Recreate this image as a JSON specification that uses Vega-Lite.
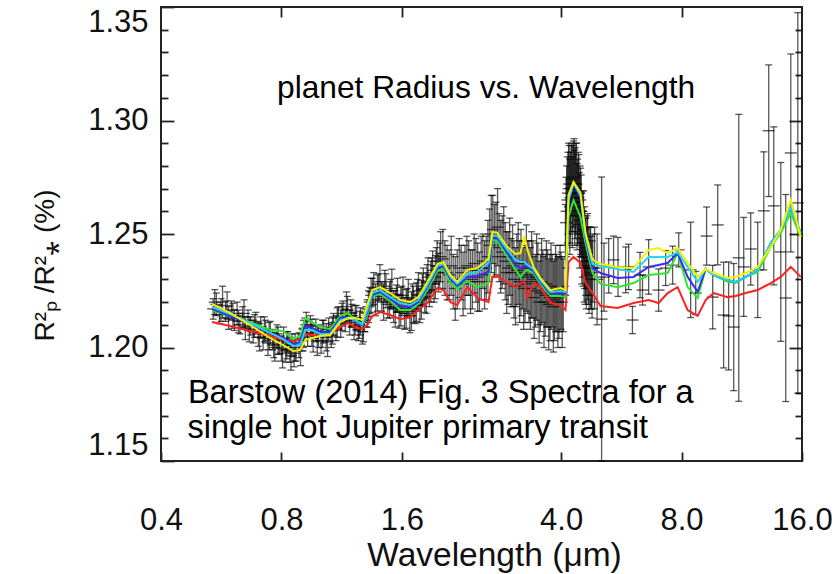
{
  "$schema": "https://vega.github.io/schema/vega-lite/v6.json",
  "width": 641,
  "height": 454,
  "autosize": {"type": "none"},
  "padding": {"left": 161, "top": 7, "right": 38, "bottom": 113},
  "background": "white",
  "config": {
    "view": {"stroke": "#222", "strokeWidth": 2},
    "font": "Liberation Sans",
    "axis": {"domain": false, "grid": false, "labelFont": "Liberation Sans", "titleFont": "Liberation Sans", "labelColor": "#111", "titleColor": "#111", "tickColor": "#222", "tickWidth": 1.8}
  },
  "datasets": {
    "pts": [
      {"w":0.54,"v":1.2170,"e":0.0045},{"w":0.55,"v":1.2190,"e":0.0050},{"w":0.56,"v":1.2145,"e":0.0040},{"w":0.57,"v":1.2200,"e":0.0070},
      {"w":0.58,"v":1.2160,"e":0.0045},{"w":0.59,"v":1.2130,"e":0.0050},{"w":0.60,"v":1.2165,"e":0.0040},{"w":0.61,"v":1.2120,"e":0.0045},
      {"w":0.62,"v":1.2150,"e":0.0050},{"w":0.63,"v":1.2100,"e":0.0040},{"w":0.64,"v":1.2135,"e":0.0045},{"w":0.65,"v":1.2085,"e":0.0050},
      {"w":0.66,"v":1.2120,"e":0.0045},{"w":0.67,"v":1.2095,"e":0.0040},{"w":0.68,"v":1.2070,"e":0.0050},{"w":0.69,"v":1.2110,"e":0.0045},
      {"w":0.70,"v":1.2060,"e":0.0055},{"w":0.71,"v":1.2090,"e":0.0045},{"w":0.72,"v":1.2040,"e":0.0050},{"w":0.73,"v":1.2075,"e":0.0045},
      {"w":0.74,"v":1.2020,"e":0.0055},{"w":0.75,"v":1.2065,"e":0.0050},{"w":0.76,"v":1.2035,"e":0.0045},{"w":0.77,"v":1.2000,"e":0.0060},
      {"w":0.78,"v":1.2050,"e":0.0050},{"w":0.79,"v":1.2015,"e":0.0045},{"w":0.80,"v":1.1995,"e":0.0055},{"w":0.81,"v":1.2040,"e":0.0050},
      {"w":0.82,"v":1.1985,"e":0.0050},{"w":0.83,"v":1.2025,"e":0.0045},{"w":0.84,"v":1.1990,"e":0.0055},{"w":0.85,"v":1.2010,"e":0.0050},
      {"w":0.86,"v":1.1975,"e":0.0060},
      {"w":0.870,"v":1.1990,"e":0.0050},{"w":0.885,"v":1.2010,"e":0.0055},{"w":0.900,"v":1.2035,"e":0.0050},{"w":0.915,"v":1.2080,"e":0.0050},
      {"w":0.930,"v":1.2060,"e":0.0055},{"w":0.945,"v":1.2095,"e":0.0045},{"w":0.960,"v":1.2040,"e":0.0060},{"w":0.975,"v":1.2075,"e":0.0050},
      {"w":0.990,"v":1.2050,"e":0.0050},{"w":1.005,"v":1.2030,"e":0.0055},{"w":1.020,"v":1.2070,"e":0.0050},{"w":1.035,"v":1.2045,"e":0.0060},
      {"w":1.050,"v":1.2080,"e":0.0050},{"w":1.065,"v":1.2055,"e":0.0055},{"w":1.080,"v":1.2100,"e":0.0050},{"w":1.095,"v":1.2085,"e":0.0055},
      {"w":1.110,"v":1.2130,"e":0.0050},{"w":1.125,"v":1.2105,"e":0.0060},{"w":1.140,"v":1.2150,"e":0.0055},{"w":1.155,"v":1.2120,"e":0.0050},
      {"w":1.170,"v":1.2165,"e":0.0060},{"w":1.185,"v":1.2110,"e":0.0055},{"w":1.200,"v":1.2140,"e":0.0050},{"w":1.215,"v":1.2095,"e":0.0060},
      {"w":1.230,"v":1.2130,"e":0.0055},{"w":1.245,"v":1.2080,"e":0.0050},{"w":1.260,"v":1.2115,"e":0.0060},{"w":1.275,"v":1.2070,"e":0.0055},
      {"w":1.290,"v":1.2120,"e":0.0050},
      {"w":1.310,"v":1.2150,"e":0.0060},{"w":1.330,"v":1.2200,"e":0.0065},{"w":1.350,"v":1.2245,"e":0.0060},{"w":1.375,"v":1.2210,"e":0.0070},
      {"w":1.400,"v":1.2265,"e":0.0060},{"w":1.425,"v":1.2225,"e":0.0065},{"w":1.450,"v":1.2270,"e":0.0070},{"w":1.475,"v":1.2190,"e":0.0060},
      {"w":1.500,"v":1.2235,"e":0.0065},{"w":1.525,"v":1.2180,"e":0.0070},{"w":1.550,"v":1.2215,"e":0.0060},{"w":1.575,"v":1.2160,"e":0.0075},
      {"w":1.600,"v":1.2205,"e":0.0065},{"w":1.625,"v":1.2150,"e":0.0070},{"w":1.650,"v":1.2195,"e":0.0065},{"w":1.675,"v":1.2140,"e":0.0075},
      {"w":1.700,"v":1.2210,"e":0.0070},{"w":1.725,"v":1.2170,"e":0.0065},{"w":1.750,"v":1.2230,"e":0.0070},{"w":1.775,"v":1.2185,"e":0.0075},
      {"w":1.800,"v":1.2255,"e":0.0070},{"w":1.825,"v":1.2220,"e":0.0065},{"w":1.850,"v":1.2290,"e":0.0075},{"w":1.875,"v":1.2250,"e":0.0070},
      {"w":1.900,"v":1.2320,"e":0.0075},{"w":1.925,"v":1.2280,"e":0.0080},{"w":1.950,"v":1.2360,"e":0.0080},{"w":1.975,"v":1.2330,"e":0.0085},
      {"w":2.00,"v":1.2400,"e":0.0110},{"w":2.05,"v":1.2350,"e":0.0120},{"w":2.10,"v":1.2320,"e":0.0110},{"w":2.15,"v":1.2290,"e":0.0120},
      {"w":2.20,"v":1.2300,"e":0.0130},{"w":2.25,"v":1.2330,"e":0.0120},{"w":2.30,"v":1.2310,"e":0.0140},{"w":2.35,"v":1.2350,"e":0.0120},
      {"w":2.40,"v":1.2300,"e":0.0130},{"w":2.45,"v":1.2340,"e":0.0140},{"w":2.50,"v":1.2290,"e":0.0130},{"w":2.55,"v":1.2380,"e":0.0120},
      {"w":2.60,"v":1.2350,"e":0.0140},{"w":2.65,"v":1.2450,"e":0.0160},{"w":2.70,"v":1.2520,"e":0.0150},{"w":2.75,"v":1.2480,"e":0.0160},
      {"w":2.80,"v":1.2440,"e":0.0150},{"w":2.85,"v":1.2420,"e":0.0160},{"w":2.90,"v":1.2380,"e":0.0170},{"w":2.95,"v":1.2350,"e":0.0160},
      {"w":3.00,"v":1.2330,"e":0.0150},{"w":3.05,"v":1.2300,"e":0.0170},{"w":3.10,"v":1.2340,"e":0.0160},{"w":3.15,"v":1.2290,"e":0.0180},
      {"w":3.20,"v":1.2320,"e":0.0150},{"w":3.25,"v":1.2280,"e":0.0170},{"w":3.30,"v":1.2310,"e":0.0160},{"w":3.35,"v":1.2260,"e":0.0180},
      {"w":3.40,"v":1.2300,"e":0.0170},{"w":3.45,"v":1.2250,"e":0.0160},{"w":3.50,"v":1.2280,"e":0.0180},{"w":3.55,"v":1.2240,"e":0.0170},
      {"w":3.60,"v":1.2270,"e":0.0160},{"w":3.65,"v":1.2230,"e":0.0180},{"w":3.70,"v":1.2260,"e":0.0170},{"w":3.75,"v":1.2220,"e":0.0190},
      {"w":3.80,"v":1.2250,"e":0.0160},{"w":3.85,"v":1.2210,"e":0.0180},{"w":3.90,"v":1.2240,"e":0.0170},{"w":3.95,"v":1.2220,"e":0.0180},
      {"w":4.00,"v":1.2250,"e":0.0170},{"w":4.05,"v":1.2230,"e":0.0160},
      {"w":4.10,"v":1.2450,"e":0.0180},{"w":4.13,"v":1.2600,"e":0.0200},{"w":4.16,"v":1.2680,"e":0.0180},{"w":4.19,"v":1.2720,"e":0.0170},
      {"w":4.22,"v":1.2660,"e":0.0200},{"w":4.25,"v":1.2740,"e":0.0160},{"w":4.28,"v":1.2700,"e":0.0190},{"w":4.31,"v":1.2750,"e":0.0170},
      {"w":4.34,"v":1.2680,"e":0.0200},{"w":4.37,"v":1.2720,"e":0.0180},{"w":4.40,"v":1.2640,"e":0.0190},{"w":4.43,"v":1.2680,"e":0.0170},
      {"w":4.46,"v":1.2600,"e":0.0200},{"w":4.49,"v":1.2580,"e":0.0180},{"w":4.52,"v":1.2500,"e":0.0190},{"w":4.55,"v":1.2520,"e":0.0170},
      {"w":4.58,"v":1.2440,"e":0.0180},{"w":4.61,"v":1.2400,"e":0.0170},{"w":4.64,"v":1.2420,"e":0.0160},{"w":4.68,"v":1.2360,"e":0.0170},
      {"w":4.72,"v":1.2380,"e":0.0150},{"w":4.76,"v":1.2330,"e":0.0160},{"w":4.80,"v":1.2350,"e":0.0150},
      {"w":0.545,"v":1.2200,"e":0.0055},{"w":0.565,"v":1.2165,"e":0.0050},{"w":0.585,"v":1.2185,"e":0.0060},{"w":0.605,"v":1.2140,"e":0.0055},
      {"w":0.625,"v":1.2115,"e":0.0050},{"w":0.645,"v":1.2150,"e":0.0060},{"w":0.665,"v":1.2080,"e":0.0055},{"w":0.685,"v":1.2095,"e":0.0050},
      {"w":0.705,"v":1.2045,"e":0.0060},{"w":0.725,"v":1.2080,"e":0.0055},{"w":0.745,"v":1.2050,"e":0.0060},{"w":0.765,"v":1.2010,"e":0.0055},
      {"w":0.785,"v":1.2030,"e":0.0060},{"w":0.805,"v":1.1975,"e":0.0065},{"w":0.825,"v":1.2010,"e":0.0060},{"w":0.845,"v":1.1965,"e":0.0065},
      {"w":0.865,"v":1.2000,"e":0.0060},{"w":0.893,"v":1.1985,"e":0.0065},{"w":0.908,"v":1.2060,"e":0.0060},{"w":0.923,"v":1.2100,"e":0.0055},
      {"w":0.953,"v":1.2065,"e":0.0060},{"w":0.983,"v":1.2030,"e":0.0065},{"w":1.013,"v":1.2060,"e":0.0060},{"w":1.043,"v":1.2025,"e":0.0065},
      {"w":1.073,"v":1.2075,"e":0.0060},{"w":1.103,"v":1.2110,"e":0.0065},{"w":1.133,"v":1.2135,"e":0.0060},{"w":1.163,"v":1.2180,"e":0.0065},
      {"w":1.193,"v":1.2150,"e":0.0060},{"w":1.223,"v":1.2120,"e":0.0065},{"w":1.253,"v":1.2100,"e":0.0060},{"w":1.283,"v":1.2090,"e":0.0065},
      {"w":1.32,"v":1.2180,"e":0.0070},{"w":1.34,"v":1.2230,"e":0.0075},{"w":1.36,"v":1.2260,"e":0.0070},{"w":1.39,"v":1.2240,"e":0.0080},
      {"w":1.41,"v":1.2290,"e":0.0075},{"w":1.44,"v":1.2200,"e":0.0080},{"w":1.46,"v":1.2250,"e":0.0075},{"w":1.49,"v":1.2210,"e":0.0080},
      {"w":1.51,"v":1.2260,"e":0.0085},{"w":1.54,"v":1.2170,"e":0.0080},{"w":1.56,"v":1.2230,"e":0.0075},{"w":1.59,"v":1.2180,"e":0.0085},
      {"w":1.61,"v":1.2230,"e":0.0080},{"w":1.64,"v":1.2170,"e":0.0085},{"w":1.66,"v":1.2220,"e":0.0080},{"w":1.69,"v":1.2160,"e":0.0085},
      {"w":1.71,"v":1.2190,"e":0.0080},{"w":1.74,"v":1.2200,"e":0.0085},{"w":1.76,"v":1.2250,"e":0.0080},{"w":1.79,"v":1.2210,"e":0.0085},
      {"w":1.81,"v":1.2270,"e":0.0080},{"w":1.84,"v":1.2240,"e":0.0090},{"w":1.86,"v":1.2310,"e":0.0085},{"w":1.89,"v":1.2290,"e":0.0090},
      {"w":1.91,"v":1.2340,"e":0.0085},{"w":1.94,"v":1.2310,"e":0.0095},{"w":1.96,"v":1.2380,"e":0.0090},{"w":1.99,"v":1.2360,"e":0.0100},
      {"w":2.025,"v":1.2390,"e":0.0130},{"w":2.075,"v":1.2330,"e":0.0120},{"w":2.125,"v":1.2360,"e":0.0130},{"w":2.175,"v":1.2260,"e":0.0140},
      {"w":2.225,"v":1.2350,"e":0.0130},{"w":2.275,"v":1.2280,"e":0.0140},{"w":2.325,"v":1.2360,"e":0.0130},{"w":2.375,"v":1.2290,"e":0.0140},
      {"w":2.425,"v":1.2370,"e":0.0130},{"w":2.475,"v":1.2310,"e":0.0150},{"w":2.525,"v":1.2350,"e":0.0140},{"w":2.575,"v":1.2320,"e":0.0150},
      {"w":2.625,"v":1.2400,"e":0.0160},{"w":2.675,"v":1.2500,"e":0.0170},{"w":2.725,"v":1.2470,"e":0.0160},{"w":2.775,"v":1.2530,"e":0.0170},
      {"w":2.825,"v":1.2400,"e":0.0160},{"w":2.875,"v":1.2450,"e":0.0170},{"w":2.925,"v":1.2330,"e":0.0180},{"w":2.975,"v":1.2400,"e":0.0170},
      {"w":3.025,"v":1.2360,"e":0.0180},{"w":3.075,"v":1.2270,"e":0.0170},{"w":3.125,"v":1.2370,"e":0.0180},{"w":3.175,"v":1.2330,"e":0.0190},
      {"w":3.225,"v":1.2260,"e":0.0180},{"w":3.275,"v":1.2350,"e":0.0190},{"w":3.325,"v":1.2290,"e":0.0180},{"w":3.375,"v":1.2320,"e":0.0190},
      {"w":3.425,"v":1.2220,"e":0.0180},{"w":3.475,"v":1.2310,"e":0.0190},{"w":3.525,"v":1.2200,"e":0.0180},{"w":3.575,"v":1.2290,"e":0.0190},
      {"w":3.625,"v":1.2200,"e":0.0200},{"w":3.675,"v":1.2280,"e":0.0190},{"w":3.725,"v":1.2190,"e":0.0200},{"w":3.775,"v":1.2270,"e":0.0190},
      {"w":3.825,"v":1.2180,"e":0.0200},{"w":3.875,"v":1.2260,"e":0.0190},{"w":3.925,"v":1.2200,"e":0.0200},{"w":3.975,"v":1.2260,"e":0.0190},
      {"w":4.025,"v":1.2200,"e":0.0200},
      {"w":4.115,"v":1.2550,"e":0.0200},{"w":4.145,"v":1.2650,"e":0.0190},{"w":4.175,"v":1.2700,"e":0.0200},{"w":4.205,"v":1.2620,"e":0.0210},
      {"w":4.235,"v":1.2700,"e":0.0190},{"w":4.265,"v":1.2640,"e":0.0200},{"w":4.295,"v":1.2720,"e":0.0190},{"w":4.325,"v":1.2660,"e":0.0210},
      {"w":4.355,"v":1.2700,"e":0.0200},{"w":4.385,"v":1.2620,"e":0.0190},{"w":4.415,"v":1.2660,"e":0.0200},{"w":4.445,"v":1.2560,"e":0.0210},
      {"w":4.475,"v":1.2600,"e":0.0190},{"w":4.505,"v":1.2480,"e":0.0200},{"w":4.535,"v":1.2460,"e":0.0190},{"w":4.565,"v":1.2400,"e":0.0200},
      {"w":4.595,"v":1.2380,"e":0.0190},{"w":4.625,"v":1.2350,"e":0.0180},{"w":4.66,"v":1.2400,"e":0.0190},{"w":4.70,"v":1.2320,"e":0.0170},
      {"w":4.74,"v":1.2350,"e":0.0180},{"w":4.78,"v":1.2300,"e":0.0170},
      {"w":4.85,"v":1.2350,"e":0.0180},{"w":4.92,"v":1.2300,"e":0.0200},{"w":5.05,"v":1.2125,"e":0.0626},{"w":5.12,"v":1.2310,"e":0.0150},
      {"w":5.26,"v":1.2360,"e":0.0120},{"w":5.41,"v":1.2386,"e":0.0105},{"w":5.55,"v":1.2355,"e":0.0130},{"w":5.80,"v":1.2342,"e":0.0101},
      {"w":5.90,"v":1.2355,"e":0.0100},{"w":6.03,"v":1.2121,"e":0.0060},{"w":6.30,"v":1.2319,"e":0.0100},{"w":6.39,"v":1.2253,"e":0.0066},
      {"w":6.62,"v":1.2355,"e":0.0120},{"w":7.01,"v":1.2253,"e":0.0093},{"w":7.30,"v":1.2350,"e":0.0077},{"w":7.60,"v":1.2363,"e":0.0084},
      {"w":7.87,"v":1.2430,"e":0.0075},{"w":8.43,"v":1.2342,"e":0.0210},{"w":8.68,"v":1.2240,"e":0.0095},{"w":9.24,"v":1.2491,"e":0.0128},
      {"w":9.57,"v":1.2222,"e":0.0140},{"w":9.85,"v":1.2540,"e":0.0176},{"w":10.19,"v":1.2143,"e":0.0233},{"w":10.49,"v":1.2139,"e":0.0238},
      {"w":10.80,"v":1.2090,"e":0.0280},{"w":11.12,"v":1.2395,"e":0.0632},{"w":11.44,"v":1.2355,"e":0.0218},{"w":11.91,"v":1.2434,"e":0.0159},
      {"w":12.40,"v":1.2342,"e":0.0210},{"w":12.84,"v":1.2602,"e":0.0260},{"w":13.21,"v":1.2955,"e":0.0290},{"w":13.60,"v":1.2624,"e":0.0348},
      {"w":14.16,"v":1.2421,"e":0.0394},{"w":14.57,"v":1.2218,"e":0.0456},{"w":15.00,"v":1.2857,"e":0.0436},{"w":15.62,"v":1.2637,"e":0.0838}
    ],
    "lines": [
      {"w":0.5366,"yellow":1.2192,"cyan":1.2178,"blue":1.2170,"green":1.2165,"red":1.2112},
      {"w":0.5953,"yellow":1.2152,"cyan":1.2147,"blue":1.2139,"green":1.2139,"red":1.2095},
      {"w":0.6680,"yellow":1.2099,"cyan":1.2108,"blue":1.2103,"green":1.2112,"red":1.2073},
      {"w":0.7496,"yellow":1.2042,"cyan":1.2064,"blue":1.2064,"green":1.2077,"red":1.2051},
      {"w":0.8078,"yellow":1.2011,"cyan":1.2037,"blue":1.2042,"green":1.2073,"red":1.2033},
      {"w":0.8558,"yellow":1.1985,"cyan":1.2007,"blue":1.2015,"green":1.2037,"red":1.2029},
      {"w":0.8909,"yellow":1.1989,"cyan":1.2011,"blue":1.2024,"green":1.2051,"red":1.2037},
      {"w":0.9170,"yellow":1.2033,"cyan":1.2077,"blue":1.2095,"green":1.2130,"red":1.2059},
      {"w":0.9548,"yellow":1.2042,"cyan":1.2077,"blue":1.2086,"green":1.2112,"red":1.2055},
      {"w":0.9998,"yellow":1.2051,"cyan":1.2059,"blue":1.2068,"green":1.2090,"red":1.2051},
      {"w":1.0591,"yellow":1.2055,"cyan":1.2059,"blue":1.2068,"green":1.2081,"red":1.2064},
      {"w":1.1220,"yellow":1.2112,"cyan":1.2121,"blue":1.2130,"green":1.2139,"red":1.2090},
      {"w":1.1748,"yellow":1.2130,"cyan":1.2130,"blue":1.2134,"green":1.2152,"red":1.2108},
      {"w":1.2232,"yellow":1.2130,"cyan":1.2121,"blue":1.2117,"green":1.2117,"red":1.2090},
      {"w":1.2736,"yellow":1.2121,"cyan":1.2103,"blue":1.2099,"green":1.2095,"red":1.2081},
      {"w":1.3108,"yellow":1.2187,"cyan":1.2165,"blue":1.2156,"green":1.2143,"red":1.2099},
      {"w":1.3491,"yellow":1.2253,"cyan":1.2240,"blue":1.2231,"green":1.2227,"red":1.2139},
      {"w":1.4127,"yellow":1.2266,"cyan":1.2253,"blue":1.2245,"green":1.2236,"red":1.2156},
      {"w":1.4966,"yellow":1.2240,"cyan":1.2222,"blue":1.2214,"green":1.2205,"red":1.2143},
      {"w":1.5854,"yellow":1.2209,"cyan":1.2196,"blue":1.2183,"green":1.2165,"red":1.2125},
      {"w":1.6794,"yellow":1.2200,"cyan":1.2187,"blue":1.2178,"green":1.2165,"red":1.2134},
      {"w":1.7586,"yellow":1.2222,"cyan":1.2209,"blue":1.2200,"green":1.2192,"red":1.2165},
      {"w":1.8522,"yellow":1.2289,"cyan":1.2275,"blue":1.2266,"green":1.2253,"red":1.2196},
      {"w":1.9621,"yellow":1.2368,"cyan":1.2359,"blue":1.2350,"green":1.2337,"red":1.2262},
      {"w":2.0310,"yellow":1.2377,"cyan":1.2368,"blue":1.2359,"green":1.2350,"red":1.2253},
      {"w":2.1147,"yellow":1.2319,"cyan":1.2311,"blue":1.2302,"green":1.2284,"red":1.2200},
      {"w":2.2017,"yellow":1.2289,"cyan":1.2280,"blue":1.2271,"green":1.2258,"red":1.2187},
      {"w":2.3323,"yellow":1.2342,"cyan":1.2324,"blue":1.2311,"green":1.2293,"red":1.2266},
      {"w":2.4708,"yellow":1.2350,"cyan":1.2333,"blue":1.2315,"green":1.2266,"red":1.2218},
      {"w":2.6323,"yellow":1.2390,"cyan":1.2372,"blue":1.2333,"green":1.2284,"red":1.2200},
      {"w":2.6938,"yellow":1.2509,"cyan":1.2496,"blue":1.2482,"green":1.2474,"red":1.2311},
      {"w":2.7726,"yellow":1.2504,"cyan":1.2491,"blue":1.2482,"green":1.2469,"red":1.2315},
      {"w":2.9370,"yellow":1.2443,"cyan":1.2430,"blue":1.2416,"green":1.2399,"red":1.2284},
      {"w":3.0755,"yellow":1.2412,"cyan":1.2386,"blue":1.2363,"green":1.2342,"red":1.2266},
      {"w":3.1654,"yellow":1.2416,"cyan":1.2377,"blue":1.2350,"green":1.2311,"red":1.2284},
      {"w":3.2394,"yellow":1.2491,"cyan":1.2377,"blue":1.2359,"green":1.2333,"red":1.2289},
      {"w":3.2956,"yellow":1.2430,"cyan":1.2363,"blue":1.2355,"green":1.2342,"red":1.2218},
      {"w":3.4116,"yellow":1.2355,"cyan":1.2346,"blue":1.2337,"green":1.2328,"red":1.2284},
      {"w":3.5522,"yellow":1.2306,"cyan":1.2297,"blue":1.2289,"green":1.2280,"red":1.2266},
      {"w":3.7628,"yellow":1.2253,"cyan":1.2245,"blue":1.2236,"green":1.2227,"red":1.2196},
      {"w":3.9859,"yellow":1.2262,"cyan":1.2249,"blue":1.2240,"green":1.2227,"red":1.2187},
      {"w":4.1025,"yellow":1.2253,"cyan":1.2245,"blue":1.2236,"green":1.2222,"red":1.2165},
      {"w":4.1740,"yellow":1.2672,"cyan":1.2650,"blue":1.2637,"green":1.2575,"red":1.2377},
      {"w":4.2957,"yellow":1.2729,"cyan":1.2724,"blue":1.2720,"green":1.2650,"red":1.2399},
      {"w":4.4723,"yellow":1.2681,"cyan":1.2672,"blue":1.2659,"green":1.2575,"red":1.2372},
      {"w":4.6031,"yellow":1.2504,"cyan":1.2491,"blue":1.2482,"green":1.2460,"red":1.2284},
      {"w":4.7925,"yellow":1.2386,"cyan":1.2368,"blue":1.2350,"green":1.2328,"red":1.2240},
      {"w":5.0183,"yellow":1.2368,"cyan":1.2359,"blue":1.2328,"green":1.2280,"red":1.2183},
      {"w":5.5352,"yellow":1.2355,"cyan":1.2346,"blue":1.2306,"green":1.2266,"red":1.2174},
      {"w":6.0705,"yellow":1.2350,"cyan":1.2333,"blue":1.2311,"green":1.2284,"red":1.2196},
      {"w":6.6180,"yellow":1.2430,"cyan":1.2399,"blue":1.2355,"green":1.2319,"red":1.2209},
      {"w":7.0097,"yellow":1.2438,"cyan":1.2399,"blue":1.2363,"green":1.2324,"red":1.2196},
      {"w":7.3836,"yellow":1.2416,"cyan":1.2399,"blue":1.2372,"green":1.2328,"red":1.2240},
      {"w":7.8213,"yellow":1.2438,"cyan":1.2421,"blue":1.2416,"green":1.2416,"red":1.2266},
      {"w":8.2852,"yellow":1.2372,"cyan":1.2355,"blue":1.2311,"green":1.2266,"red":1.2165},
      {"w":8.7765,"yellow":1.2311,"cyan":1.2289,"blue":1.2245,"green":1.2218,"red":1.2139},
      {"w":9.1900,"yellow":1.2346,"cyan":1.2346,"blue":1.2346,"green":1.2346,"red":1.2209},
      {"w":9.6237,"yellow":1.2328,"cyan":1.2319,"blue":1.2319,"green":1.2319,"red":1.2240},
      {"w":10.432,"yellow":1.2306,"cyan":1.2297,"blue":1.2297,"green":1.2289,"red":1.2222},
      {"w":10.924,"yellow":1.2311,"cyan":1.2289,"blue":1.2289,"green":1.2284,"red":1.2227},
      {"w":11.572,"yellow":1.2328,"cyan":1.2311,"blue":1.2311,"green":1.2311,"red":1.2240},
      {"w":12.402,"yellow":1.2355,"cyan":1.2342,"blue":1.2342,"green":1.2333,"red":1.2253},
      {"w":13.365,"yellow":1.2443,"cyan":1.2460,"blue":1.2460,"green":1.2443,"red":1.2284},
      {"w":14.159,"yellow":1.2518,"cyan":1.2518,"blue":1.2518,"green":1.2504,"red":1.2311},
      {"w":14.998,"yellow":1.2650,"cyan":1.2619,"blue":1.2619,"green":1.2593,"red":1.2355},
      {"w":15.888,"yellow":1.2487,"cyan":1.2504,"blue":1.2504,"green":1.2487,"red":1.2311}
    ],
    "notes1": [
      {"w":0.780,"v":1.3099,"t":"planet Radius vs. Wavelength"}
    ],
    "notes2": [
      {"w":0.467,"v":1.1755,"t":"Barstow (2014) Fig. 3 Spectra for a"},
      {"w":0.466,"v":1.1601,"t":"single hot Jupiter primary transit"}
    ]
  },
  "resolve": {"axis": {"x": "independent", "y": "independent"}},
  "layer": [
    {
      "data": {"name": "pts"},
      "mark": {"type": "errorbar", "ticks": true, "size": 7, "thickness": 1.3, "color": "#000", "opacity": 0.65},
      "encoding": {
        "x": {"field": "w", "type": "quantitative", "scale": {"type": "log", "domain": [0.4, 16], "nice": false},
          "axis": {"orient": "bottom", "values": [0.4, 0.8, 1.6, 4, 8, 16], "format": ".1f", "title": "Wavelength (μm)",
            "labelFontSize": 31, "titleFontSize": 33.5, "titleFontWeight": "normal", "tickSize": 9, "offset": -9, "labelPadding": 44,
            "labelFlush": false, "labelOverlap": false, "titleX": 333, "titleY": 113, "titleBaseline": "alphabetic"}},
        "y": {"field": "v", "type": "quantitative", "scale": {"domain": [1.15, 1.35], "nice": false, "zero": false},
          "axis": {"orient": "left", "values": [1.15, 1.2, 1.25, 1.3, 1.35], "format": ".2f", "title": "R²ₚ /R²⁎ (%)",
            "labelFontSize": 31, "titleFontSize": 28, "titleFontWeight": "normal", "tickSize": 13, "offset": -13, "labelPadding": 13,
            "labelFlush": true, "labelOverlap": false, "titleAngle": -90, "titleX": -129, "titleY": 258, "titleAlign": "center", "titleBaseline": "middle"}},
        "yError": {"field": "e"}
      }
    },
    {
      "data": {"name": "pts"},
      "mark": {"type": "tick", "orient": "horizontal", "size": 12, "thickness": 1.4, "color": "#000", "opacity": 0.65},
      "encoding": {
        "x": {"field": "w", "type": "quantitative", "scale": {"type": "log", "domain": [0.4, 16], "nice": false},
          "axis": {"orient": "top", "values": [0.8, 1.6, 4, 8], "labels": false, "title": null, "tickSize": 10, "offset": -10}},
        "y": {"field": "v", "type": "quantitative", "scale": {"domain": [1.15, 1.35], "nice": false, "zero": false},
          "axis": {"orient": "left", "values": [1.16, 1.17, 1.18, 1.19, 1.21, 1.22, 1.23, 1.24, 1.26, 1.27, 1.28, 1.29, 1.31, 1.32, 1.33, 1.34], "labels": false, "title": null, "tickSize": 7, "offset": -7}}
      }
    },
    {
      "data": {"name": "lines"},
      "mark": {"type": "line", "color": "#ff2020", "strokeWidth": 2},
      "encoding": {
        "x": {"field": "w", "type": "quantitative", "scale": {"type": "log", "domain": [0.4, 16], "nice": false}, "axis": null},
        "y": {"field": "red", "type": "quantitative", "scale": {"domain": [1.15, 1.35], "nice": false, "zero": false},
          "axis": {"orient": "right", "values": [1.2, 1.25, 1.3], "labels": false, "title": null, "tickSize": 13, "offset": -13}}
      }
    },
    {
      "data": {"name": "lines"},
      "transform": [{"fold": ["green", "blue", "cyan", "yellow"], "as": ["k", "val"]}],
      "mark": {"type": "line", "strokeWidth": 2},
      "encoding": {
        "x": {"field": "w", "type": "quantitative", "scale": {"type": "log", "domain": [0.4, 16], "nice": false}, "axis": null},
        "y": {"field": "val", "type": "quantitative", "scale": {"domain": [1.15, 1.35], "nice": false, "zero": false},
          "axis": {"orient": "right", "values": [1.16, 1.17, 1.18, 1.19, 1.21, 1.22, 1.23, 1.24, 1.26, 1.27, 1.28, 1.29, 1.31, 1.32, 1.33, 1.34], "labels": false, "title": null, "tickSize": 7, "offset": -7}},
        "color": {"field": "k", "type": "nominal", "scale": {"domain": ["green", "blue", "cyan", "yellow"], "range": ["#2ee82e", "#3a2cf0", "#26d4f5", "#f2f200"]}, "legend": null}
      }
    },
    {
      "data": {"name": "notes1"},
      "mark": {"type": "text", "align": "left", "baseline": "alphabetic", "fontSize": 31.7, "font": "Liberation Sans", "color": "#000"},
      "encoding": {
        "x": {"field": "w", "type": "quantitative", "scale": {"type": "log", "domain": [0.4, 16], "nice": false}, "axis": null},
        "y": {"field": "v", "type": "quantitative", "scale": {"domain": [1.15, 1.35], "nice": false, "zero": false}, "axis": null},
        "text": {"field": "t"}
      }
    },
    {
      "data": {"name": "notes2"},
      "mark": {"type": "text", "align": "left", "baseline": "alphabetic", "fontSize": 32.5, "font": "Liberation Sans", "color": "#000"},
      "encoding": {
        "x": {"field": "w", "type": "quantitative", "scale": {"type": "log", "domain": [0.4, 16], "nice": false}, "axis": null},
        "y": {"field": "v", "type": "quantitative", "scale": {"domain": [1.15, 1.35], "nice": false, "zero": false}, "axis": null},
        "text": {"field": "t"}
      }
    }
  ]
}
